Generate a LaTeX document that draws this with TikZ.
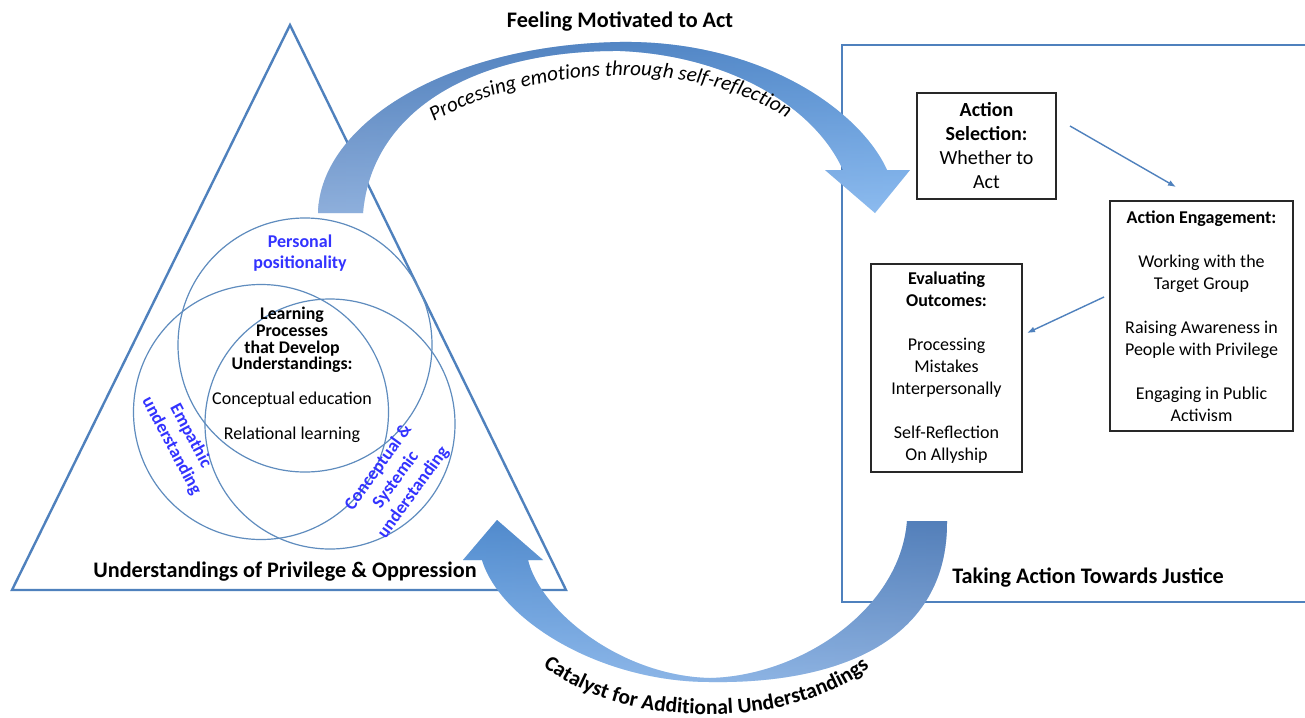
\documentclass[tikz,border=0pt]{standalone}
\usepackage{fontspec}
\setmainfont{Carlito}
\usetikzlibrary{arrows.meta,decorations.text}
\definecolor{lineblue}{RGB}{79,129,189}
\definecolor{vennblue}{RGB}{95,140,190}
\definecolor{labelblue}{RGB}{51,51,255}
\definecolor{boxline}{RGB}{40,40,40}
\definecolor{arrdark}{RGB}{62,118,185}
\definecolor{arrlight}{RGB}{160,198,242}
\definecolor{arrmuted}{RGB}{115,140,185}
\definecolor{arrbright}{RGB}{110,172,238}
\tikzset{
  triline/.style={draw=lineblue, line width=2.4pt, line join=miter},
  vennc/.style={circle, draw=vennblue, line width=1.2pt, inner sep=0pt, outer sep=0pt},
  boxnode/.style={draw=boxline, line width=1.4pt, align=center, inner sep=0pt,
    font=\fontsize{18}{22}\selectfont},
  titletxt/.style={font=\bfseries\fontsize{22.2}{26}\selectfont, inner sep=0pt},
  bluelabel/.style={font=\bfseries\fontsize{18}{21.5}\selectfont, text=labelblue, align=center, inner sep=0pt},
  thinarrow/.style={draw=lineblue, line width=1.4pt, -{Latex[length=8pt,width=6pt]}},
}
\begin{document}
\begin{tikzpicture}[x=1pt,y=-1pt]
\useasboundingbox (0,0) rectangle (1305,717);
\fill[white] (0,0) rectangle (1305,717);

% triangle
\coordinate (apex) at (290,25);
\coordinate (tbl) at (12,590);
\coordinate (tbr) at (566,590);
\draw[triline] (apex) -- (tbl) -- (tbr) -- cycle;

% right frame
\coordinate (fr1) at (1310,45);
\coordinate (fr2) at (842,45);
\coordinate (fr3) at (842,602);
\coordinate (fr4) at (1310,602);
\draw[triline] (fr1) -- (fr2) -- (fr3) -- (fr4);

% Venn circles
\node[vennc, minimum size=254pt] (ctop) at (305,345) {};
\node[vennc, minimum size=255pt] (cleft) at (261,412) {};
\node[vennc, minimum size=250pt] (cright) at (330,424) {};

% Venn texts
\node[bluelabel] (personal) at (300,253) {Personal\\positionality};
\node[bluelabel, rotate=-62] (empathic) at (181,441) {Empathic\\understanding};
\node[bluelabel, rotate=54] (systemic) at (396,480) {Conceptual \&\\Systemic\\understanding};
\node[font=\bfseries\fontsize{17.8}{16.8}\selectfont, align=center, inner sep=0pt] (learnhead) at (292,340)
  {Learning\\Processes\\that Develop\\Understandings:};
\node[font=\fontsize{18}{22}\selectfont, inner sep=0pt] (concept) at (292,400) {Conceptual education};
\node[font=\fontsize{18}{22}\selectfont, inner sep=0pt] (relational) at (292,435) {Relational learning};

% titles
\node[titletxt] (feeling) at (620,22) {Feeling Motivated to Act};
\node[titletxt] (understand) at (285,572) {Understandings of Privilege \& Oppression};
\node[titletxt] (taking) at (1088,578) {Taking Action Towards Justice};

% boxes
\node[boxnode, minimum width=139pt, minimum height=106pt, font=\fontsize{20}{24}\selectfont] (sel) at (986.5,146)
  {\textbf{Action}\\\textbf{Selection:}\\Whether to\\Act};
\node[boxnode, minimum width=183pt, minimum height=230pt] (eng) at (1201.5,316)
  {\textbf{Action Engagement:}\\[22pt]Working with the\\Target Group\\[22pt]Raising Awareness in\\People with Privilege\\[22pt]Engaging in Public\\Activism};
\node[boxnode, minimum width=151pt, minimum height=208pt] (eval) at (946.5,368)
  {\textbf{Evaluating}\\\textbf{Outcomes:}\\[22pt]Processing\\Mistakes\\Interpersonally\\[22pt]Self-Reflection\\On Allyship};

% thin connectors
\coordinate (a1s) at (1070,126);
\coordinate (a1e) at (1176,187);
\coordinate (a2s) at (1104,297);
\coordinate (a2e) at (1027,333);
\draw[thinarrow] (a1s) -- (a1e);
\draw[thinarrow] (a2s) -- (a2e);

% top curved arrow
\def\toparrow{(318,213) .. controls (320,125) and (445,45) .. (620,42)
  .. controls (760,40) and (860,110) .. (887,170) -- (910,170) -- (875,213) -- (825,170) -- (843,170)
  .. controls (812,102) and (722,55) .. (620,51) .. controls (478,50) and (372,108) .. (363,213) -- cycle}
\shade[top color=arrdark, bottom color=arrlight] \toparrow;
\shade[left color=arrmuted, right color=arrbright, fill opacity=0.4] \toparrow;

% bottom curved arrow
\def\botarrow{(947,521) .. controls (948,640) and (840,684) .. (710,682)
  .. controls (600,682) and (500,620) .. (482,560) -- (463,560) -- (497,520) -- (543,560) -- (528,560)
  .. controls (540,610) and (620,676) .. (710,678) .. controls (800,676) and (900,610) .. (907,521) -- cycle}
\shade[top color=arrdark, bottom color=arrlight] \botarrow;
\shade[left color=arrbright, right color=arrmuted, fill opacity=0.4] \botarrow;

% curved labels
\coordinate (p1) at (424,128);
\coordinate (p2) at (796,125);
\path[decorate, decoration={text along path, text align=center,
  text={|\itshape\fontsize{21}{21}\selectfont|Processing emotions through self-reflection}}]
  (p1) .. controls (482,91) and (560,73) .. (640,76) .. controls (700,78) and (763,98) .. (p2);
\coordinate (q1) at (535,660);
\coordinate (q2) at (877,661);
\path[decorate, decoration={text along path, text align=center,
  text={|\bfseries\fontsize{21.5}{21}\selectfont|Catalyst for Additional Understandings}}]
  (q1) .. controls (585,701) and (650,716) .. (720,714) .. controls (790,712) and (847,690) .. (q2);
\end{tikzpicture}
\end{document}
